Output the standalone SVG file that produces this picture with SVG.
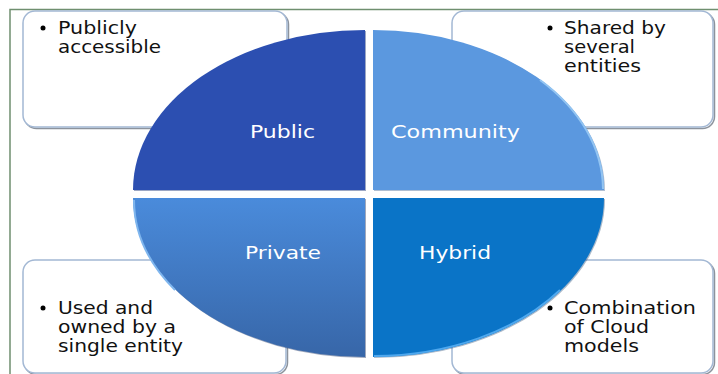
<svg xmlns="http://www.w3.org/2000/svg" width="718" height="374" viewBox="0 0 718 374">
  <defs>
    <linearGradient id="gPrivate" x1="0" y1="0" x2="0" y2="1">
      <stop offset="0" stop-color="#4a8bdb"/>
      <stop offset="1" stop-color="#3766a8"/>
    </linearGradient>
    <style>
      .box { fill: #ffffff; stroke: #a3b8d4; stroke-width: 1.5; }
      .shadow { fill: none; stroke: #6f7884; stroke-width: 1.5; opacity: 0.8; }
      .bullet { fill: #000000; }
      .txt { font-family: "DejaVu Sans", "Liberation Sans", sans-serif; font-size: 17px; fill: #111111; }
      .lbl { font-family: "DejaVu Sans", "Liberation Sans", sans-serif; font-size: 18px; fill: #ffffff; text-anchor: middle; }
      .frame { stroke: #6f8f6f; stroke-width: 1.5; fill: none; }
    </style>
  </defs>
  <rect width="718" height="374" fill="#ffffff"/>
  <path class="frame" d="M10,374 L10,9.5 L718,9.5"/>

  <g id="box-public-desc">
    <rect class="shadow" x="24.5" y="12.5" width="264" height="116" rx="12"/>
    <rect class="box" x="23" y="11" width="264" height="116" rx="12"/>
    <circle class="bullet" cx="43" cy="28" r="2.5"/>
    <text class="txt" x="58" y="34" textLength="79" lengthAdjust="spacingAndGlyphs">Publicly</text>
    <text class="txt" x="58" y="53" textLength="103" lengthAdjust="spacingAndGlyphs">accessible</text>
  </g>
  <g id="box-community-desc">
    <rect class="shadow" x="453.5" y="12.5" width="261" height="116" rx="12"/>
    <rect class="box" x="452" y="11" width="261" height="116" rx="12"/>
    <circle class="bullet" cx="550" cy="28" r="2.5"/>
    <text class="txt" x="564" y="34" textLength="102" lengthAdjust="spacingAndGlyphs">Shared by</text>
    <text class="txt" x="564" y="53" textLength="71" lengthAdjust="spacingAndGlyphs">several</text>
    <text class="txt" x="564" y="72" textLength="77" lengthAdjust="spacingAndGlyphs">entities</text>
  </g>
  <g id="box-private-desc">
    <rect class="shadow" x="24.5" y="261.5" width="263" height="113" rx="12"/>
    <rect class="box" x="23" y="260" width="263" height="113" rx="12"/>
    <circle class="bullet" cx="43" cy="308" r="2.5"/>
    <text class="txt" x="58" y="314" textLength="95" lengthAdjust="spacingAndGlyphs">Used and</text>
    <text class="txt" x="58" y="333" textLength="118" lengthAdjust="spacingAndGlyphs">owned by a</text>
    <text class="txt" x="58" y="352" textLength="125" lengthAdjust="spacingAndGlyphs">single entity</text>
  </g>
  <g id="box-hybrid-desc">
    <rect class="shadow" x="453.5" y="261.5" width="261" height="113" rx="12"/>
    <rect class="box" x="452" y="260" width="261" height="113" rx="12"/>
    <circle class="bullet" cx="550" cy="308" r="2.5"/>
    <text class="txt" x="564" y="314" textLength="132" lengthAdjust="spacingAndGlyphs">Combination</text>
    <text class="txt" x="564" y="333" textLength="85" lengthAdjust="spacingAndGlyphs">of Cloud</text>
    <text class="txt" x="564" y="352" textLength="75" lengthAdjust="spacingAndGlyphs">models</text>
  </g>

  <g id="public">
    <path d="M366,191 L134,191 A 232 160 0 0 1 366,31 Z" fill="#3a4f8a" opacity="0.5"/>
    <path d="M365,190 L133,190 A 232 160 0 0 1 365,30 Z" fill="#2c4fb1"/>
    <text class="lbl" x="282.5" y="138" textLength="65" lengthAdjust="spacingAndGlyphs">Public</text>
  </g>
  <g id="community">
    <path d="M374,191 L374,31 A 231 160 0 0 1 605,191 Z" fill="#3a5f8f" opacity="0.4"/>
    <path d="M373,190 L373,30 A 231 160 0 0 1 604,190 Z" fill="#5b98df"/>
    <path d="M 540,80 A 231 160 0 0 1 603,189" fill="none" stroke="#92c4f2" stroke-width="2"/>
    <text class="lbl" x="455.5" y="138" textLength="129" lengthAdjust="spacingAndGlyphs">Community</text>
  </g>
  <g id="private">
    <path d="M366,199 L366,358 A 232 159 0 0 1 134,199 Z" fill="#2a3f6a" opacity="0.45"/>
    <path d="M365,198 L365,357 A 232 159 0 0 1 133,198 Z" fill="url(#gPrivate)"/>
    <path d="M 134,200 A 232 159 0 0 0 175,290" fill="none" stroke="#7fb6ee" stroke-width="2"/>
    <text class="lbl" x="283" y="259" textLength="76" lengthAdjust="spacingAndGlyphs">Private</text>
  </g>
  <g id="hybrid">
    <path d="M374,199 L605,199 A 231 159 0 0 1 374,358 Z" fill="#2a4f7a" opacity="0.4"/>
    <path d="M373,198 L604,198 A 231 159 0 0 1 373,357 Z" fill="#0a74c7"/>
    <path d="M 560,290 A 231 159 0 0 1 374,356" fill="none" stroke="#4fa8ee" stroke-width="2"/>
    <text class="lbl" x="455" y="259" textLength="72" lengthAdjust="spacingAndGlyphs">Hybrid</text>
  </g>
</svg>
